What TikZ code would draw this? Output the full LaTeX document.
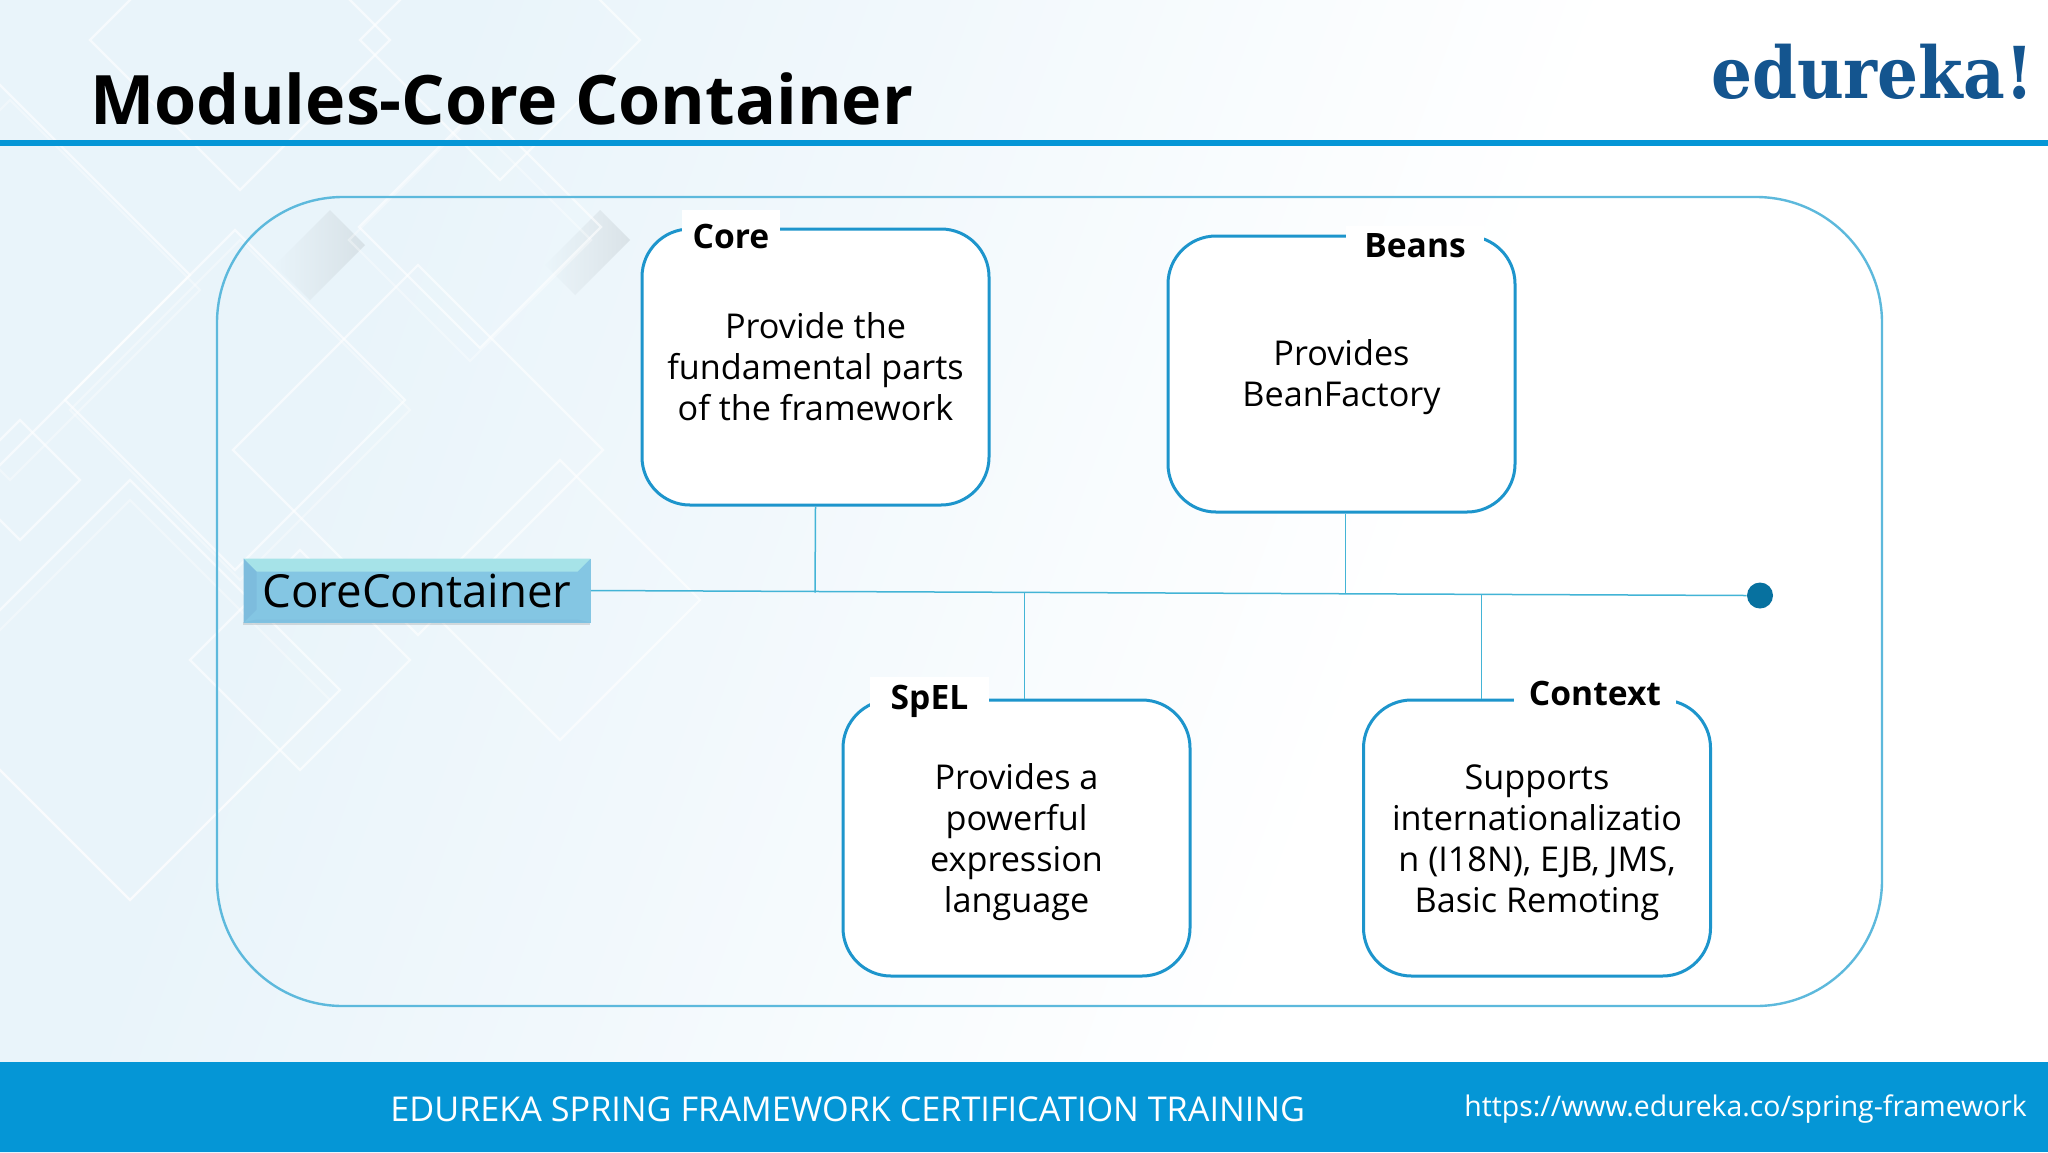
\documentclass[tikz,border=0pt]{standalone}
\usepackage{fontspec}
\setmainfont{Open Sans}
\newfontfamily\logofont[FakeStretch=0.9]{DejaVu Serif}
\usetikzlibrary{calc}
\definecolor{bgA}{HTML}{E9F4FA}
\definecolor{bgB}{HTML}{F1F8FC}
\definecolor{bgC}{HTML}{F9FCFE}
\definecolor{brand}{HTML}{0596D6}
\definecolor{boxline}{HTML}{1D95CC}
\definecolor{panelline}{HTML}{5DB9DC}
\definecolor{stem}{HTML}{43B4D6}
\definecolor{logoblue}{HTML}{14558F}
\definecolor{dotblue}{HTML}{07719F}
\definecolor{ccbase}{HTML}{84C6E3}
\definecolor{cctop}{HTML}{A6E3E8}
\definecolor{ccleft}{HTML}{7DBCDD}
\definecolor{ccbot}{HTML}{7FC0E0}
\pgfdeclarehorizontalshading{bgfade}{100bp}{color(0bp)=(bgA); color(30bp)=(bgA); color(42bp)=(bgB); color(52bp)=(bgC); color(60bp)=(white); color(100bp)=(white)}
\tikzset{
  x=0.5pt,y=-0.5pt,
  modbox/.style={draw=boxline,line width=1.5pt,fill=white,rounded corners=24pt,minimum width=173.5pt,minimum height=138pt,inner sep=0pt,align=center,font=\fontsize{17.1}{20.5}\selectfont},
  lab/.style={fill=white,inner sep=0pt,anchor=base,text height=#1,text depth=5pt,font=\fontsize{16.8}{20}\selectfont\bfseries},
  stemline/.style={draw=stem,line width=0.75pt},
  diamond line/.style={draw=white,line width=1.2pt,opacity=0.6},
}
\begin{document}
\begin{tikzpicture}
\useasboundingbox (0,0) rectangle (2048,1152);
\begin{scope}
\clip (0,0) rectangle (2048,1152);
\shade[shading=bgfade,shading angle=-20] (0,0) rectangle (2048,1152);
% soft patches of the background
\shade[left color=bgA,right color=black!25!bgA,opacity=.3] (275,265) -- (330,210) -- (365,245) -- (310,300) -- cycle;
\shade[left color=bgA,right color=black!25!bgA,opacity=.3] (545,265) -- (600,210) -- (630,240) -- (575,295) -- cycle;
% diamond outlines of the background
\foreach \cx/\cy/\r in {480/227/121, 418/450/185, 235/400/170, 0/275/190, 130/690/210, 500/40/140, 240/40/150, 20/480/60, 560/600/140, 300/660/110}{
  \draw[diamond line] (\cx-\r,\cy) -- (\cx,\cy-\r) -- (\cx+\r,\cy) -- (\cx,\cy+\r) -- cycle;
}
\foreach \cx/\cy/\r in {470/240/121, 240/410/170, 10/290/190, 130/700/200}{
  \draw[diamond line,opacity=.35] (\cx-\r,\cy) -- (\cx,\cy-\r) -- (\cx+\r,\cy) -- (\cx,\cy+\r) -- cycle;
}
\end{scope}
% header and footer
\fill[brand] (0,140) rectangle (2048,146);
\fill[brand] (0,1062) rectangle (2048,1152);
\node[anchor=base west,inner sep=0pt,font=\fontsize{34.1}{40}\selectfont\bfseries] (title) at (90,124) {Modules-Core Container};
\node[anchor=base east,inner sep=0pt,text=logoblue,font=\fontsize{35.8}{40}\logofont\bfseries] (logo) at (2034,98) {edureka!};
\node[anchor=base west,inner sep=0pt,text=white,font=\fontsize{17.1}{20}\selectfont] (foot) at (390,1121) {EDUREKA SPRING FRAMEWORK CERTIFICATION TRAINING};
\node[anchor=base west,inner sep=0pt,text=white,font=\fontsize{14.2}{20}\selectfont] (url) at (1464,1116) {https://www.edureka.co/spring-framework};
% panel
\node[draw=panelline,line width=1.2pt,rounded corners=63pt,minimum width=832.5pt,minimum height=404.5pt,inner sep=0pt] (panel) at (1049.5,601.5) {};
% central bar
\fill[black,opacity=.12] (243,622) rectangle (590,625);
\node[fill=ccbase,minimum width=173.5pt,minimum height=32pt,inner sep=0pt,font=\fontsize{22.8}{28}\selectfont,
  path picture={
    \fill[cctop] (path picture bounding box.north west) -- (path picture bounding box.north east) -- ++(-6.5pt,-6.5pt) -- ($(path picture bounding box.north west)+(6.5pt,-6.5pt)$) -- cycle;
    \fill[ccleft] (path picture bounding box.north west) -- (path picture bounding box.south west) -- ++(6.5pt,6.5pt) -- ($(path picture bounding box.north west)+(6.5pt,-6.5pt)$) -- cycle;
    \fill[ccbot] (path picture bounding box.south west) -- (path picture bounding box.south east) -- ++(-6.5pt,1.5pt) -- ($(path picture bounding box.south west)+(6.5pt,1.5pt)$) -- cycle;
  }] (cc) at (417,590.5) {CoreContainer};
\node[circle,fill=dotblue,minimum size=13pt,inner sep=0pt] (dot) at (1760,595.5) {};
\coordinate (jcore) at (815,592.6);
\coordinate (jspel) at (1024.5,593.4);
\coordinate (jbeans) at (1345.5,594.1);
\coordinate (jctx) at (1481.5,594.5);
% boxes
\node[modbox] (core) at (815.5,367) {Provide the\\fundamental parts\\of the framework};
\node[modbox] (beans) at (1341.5,374) {\rule{0pt}{16pt}Provides\\BeanFactory};
\node[modbox] (spel) at (1016.5,838) {\rule{0pt}{17.5pt}Provides a\\powerful\\expression\\language};
\node[modbox] (ctx) at (1537,838) {\rule{0pt}{17.5pt}Supports\\internationalizatio\\n (I18N), EJB, JMS,\\Basic Remoting};
% connectors
\draw[stemline] (cc.east) -- (dot.west);
\draw[stemline] (core.south) -- (jcore);
\draw[stemline] (jspel) -- (jspel |- spel.north);
\draw[stemline] (jbeans |- beans.south) -- (jbeans);
\draw[stemline] (jctx) -- (jctx |- ctx.north);
% titles on the box edges
\node[lab=19pt,minimum width=49pt] (corelab) at (731,248) {Core};
\node[lab=16pt,minimum width=69pt] (beanslab) at (1415,257.5) {Beans};
\node[lab=16pt,minimum width=59.5pt] (spellab) at (929.5,709) {SpEL};
\node[lab=16pt,minimum width=81pt] (ctxlab) at (1595,705) {Context};
\end{tikzpicture}
\end{document}
